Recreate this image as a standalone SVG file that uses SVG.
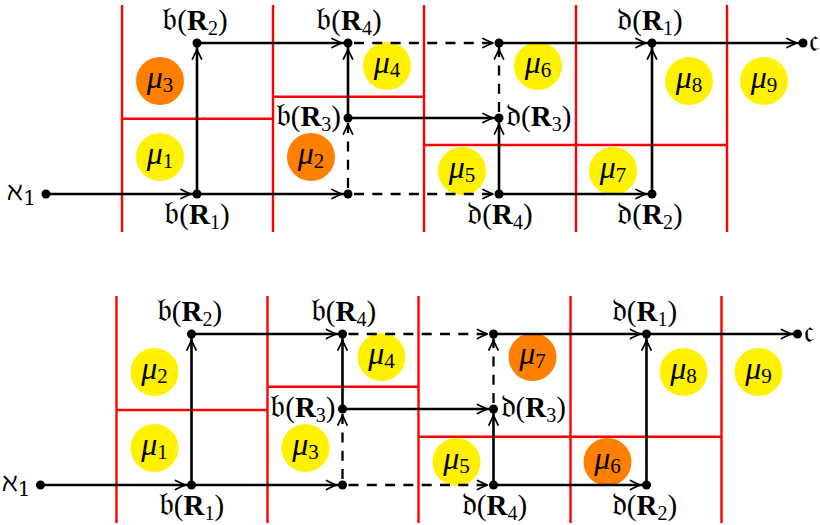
<svg xmlns="http://www.w3.org/2000/svg" width="820" height="525" viewBox="0 0 820 525">
<style>
.red{stroke:#ff0000;stroke-width:2.4;fill:none}
.ln{stroke:#000;stroke-width:2.6;fill:none;marker-end:url(#ah)}
.dash{stroke-width:2.3;stroke-dasharray:10 8.3;stroke-dashoffset:12.3}
.dot{fill:#000}
.y{fill:#fff100}
.o{fill:#ff7f00}
.lbl{font-family:"Liberation Serif","DejaVu Serif",serif;font-size:29px;fill:#000}
.fr{font-size:33px}
.b{font-weight:bold}
.sub{font-size:20px}
.al{font-family:"DejaVu Serif","Liberation Serif",serif;font-size:26px}
.mu{font-family:"Liberation Serif","DejaVu Serif",serif;font-size:32px;font-style:italic;text-anchor:middle}
.mus{font-size:21px;font-style:normal}
</style>
<defs>
<marker id="ah" markerUnits="userSpaceOnUse" markerWidth="20" markerHeight="12" viewBox="-12 -6 20 12" refX="6" refY="0" orient="auto" overflow="visible">
<path d="M-10,-4.6 Q-3.5,-1.3 0,0 Q-3.5,1.3 -10,4.6" fill="none" stroke="#000" stroke-width="1.7" stroke-linecap="round" stroke-linejoin="round"/>
</marker>
</defs>

<g id="top">
<g id="t-regions">
<path class="red" d="M122,5V232M273,5V232M424,5V232M576,5V232M727,5V232M122,118.7H273M273,96.7H424M424,145H727"/>
</g>
<g id="t-cells">
<g id="t-mu3"><circle class="o" cx="160" cy="81" r="24"/><text class="mu" x="160" y="88">μ<tspan class="mus" dy="4">3</tspan></text></g>
<g id="t-mu1"><circle class="y" cx="160" cy="157" r="24"/><text class="mu" x="160" y="164">μ<tspan class="mus" dy="4">1</tspan></text></g>
<g id="t-mu2"><circle class="o" cx="311" cy="157" r="24"/><text class="mu" x="311" y="164">μ<tspan class="mus" dy="4">2</tspan></text></g>
<g id="t-mu4"><circle class="y" cx="387" cy="66" r="24"/><text class="mu" x="387" y="73">μ<tspan class="mus" dy="4">4</tspan></text></g>
<g id="t-mu5"><circle class="y" cx="462" cy="171" r="24"/><text class="mu" x="462" y="178">μ<tspan class="mus" dy="4">5</tspan></text></g>
<g id="t-mu6"><circle class="y" cx="538" cy="66" r="24"/><text class="mu" x="538" y="73">μ<tspan class="mus" dy="4">6</tspan></text></g>
<g id="t-mu7"><circle class="y" cx="613" cy="171" r="24"/><text class="mu" x="613" y="178">μ<tspan class="mus" dy="4">7</tspan></text></g>
<g id="t-mu8"><circle class="y" cx="689" cy="81" r="24"/><text class="mu" x="689" y="88">μ<tspan class="mus" dy="4">8</tspan></text></g>
<g id="t-mu9"><circle class="y" cx="764" cy="81" r="24"/><text class="mu" x="764" y="88">μ<tspan class="mus" dy="4">9</tspan></text></g>
</g>
<g id="t-connectors">
<path class="ln" d="M46,194H197"/>
<path class="ln" d="M197,194V43"/>
<path class="ln" d="M197,43H348"/>
<path class="ln" d="M197,194H348"/>
<path class="ln dash" d="M348,194V118"/>
<path class="ln" d="M348,118V43"/>
<path class="ln dash" d="M348,43H499"/>
<path class="ln dash" d="M348,194H499"/>
<path class="ln" d="M348,118H499"/>
<path class="ln" d="M499,194V118"/>
<path class="ln dash" d="M499,118V43"/>
<path class="ln" d="M499,43H652"/>
<path class="ln" d="M499,194H652"/>
<path class="ln" d="M652,194V43"/>
<path class="ln" d="M652,43H803"/>
</g>
<g id="t-aleph"><circle class="dot" cx="46" cy="194" r="4.5"/><text class="lbl al" x="36" y="200" text-anchor="end">ℵ<tspan class="sub" dy="5">1</tspan></text></g>
<g id="t-bR1"><circle class="dot" cx="197" cy="194" r="4.5"/><text class="lbl" x="197" y="224" text-anchor="middle"><tspan class="fr">𝔟</tspan>(<tspan class="b">R</tspan><tspan class="sub" dy="5">1</tspan><tspan dy="-5">)</tspan></text></g>
<g id="t-bR2"><circle class="dot" cx="197" cy="43" r="4.5"/><text class="lbl" x="195" y="30" text-anchor="middle"><tspan class="fr">𝔟</tspan>(<tspan class="b">R</tspan><tspan class="sub" dy="5">2</tspan><tspan dy="-5">)</tspan></text></g>
<g id="t-bR4"><circle class="dot" cx="348" cy="43" r="4.5"/><text class="lbl" x="349" y="30" text-anchor="middle"><tspan class="fr">𝔟</tspan>(<tspan class="b">R</tspan><tspan class="sub" dy="5">4</tspan><tspan dy="-5">)</tspan></text></g>
<g id="t-bR3"><circle class="dot" cx="348" cy="118" r="4.5"/><text class="lbl" x="341" y="126" text-anchor="end"><tspan class="fr">𝔟</tspan>(<tspan class="b">R</tspan><tspan class="sub" dy="5">3</tspan><tspan dy="-5">)</tspan></text></g>
<g id="t-j1"><circle class="dot" cx="348" cy="194" r="4.5"/></g>
<g id="t-j2"><circle class="dot" cx="499" cy="43" r="4.5"/></g>
<g id="t-dR3"><circle class="dot" cx="499" cy="118" r="4.5"/><text class="lbl" x="506" y="126"><tspan class="fr">𝔡</tspan>(<tspan class="b">R</tspan><tspan class="sub" dy="5">3</tspan><tspan dy="-5">)</tspan></text></g>
<g id="t-dR4"><circle class="dot" cx="499" cy="194" r="4.5"/><text class="lbl" x="500" y="224" text-anchor="middle"><tspan class="fr">𝔡</tspan>(<tspan class="b">R</tspan><tspan class="sub" dy="5">4</tspan><tspan dy="-5">)</tspan></text></g>
<g id="t-dR1"><circle class="dot" cx="652" cy="43" r="4.5"/><text class="lbl" x="650" y="30" text-anchor="middle"><tspan class="fr">𝔡</tspan>(<tspan class="b">R</tspan><tspan class="sub" dy="5">1</tspan><tspan dy="-5">)</tspan></text></g>
<g id="t-dR2"><circle class="dot" cx="652" cy="194" r="4.5"/><text class="lbl" x="650" y="224" text-anchor="middle"><tspan class="fr">𝔡</tspan>(<tspan class="b">R</tspan><tspan class="sub" dy="5">2</tspan><tspan dy="-5">)</tspan></text></g>
<g id="t-c"><circle class="dot" cx="803" cy="43" r="4.5"/><text class="lbl fr" x="809" y="51">𝔠</text></g>
</g>

<g id="bottom" transform="translate(-5.5,291)">
<g id="b-regions">
<path class="red" d="M122,5V232M273,5V232M424,5V232M576,5V232M727,5V232M122,119H273M273,95.7H424M424,145.7H727"/>
</g>
<g id="b-cells">
<g id="b-mu2"><circle class="y" cx="160" cy="81" r="24"/><text class="mu" x="160" y="88">μ<tspan class="mus" dy="4">2</tspan></text></g>
<g id="b-mu1"><circle class="y" cx="160" cy="157" r="24"/><text class="mu" x="160" y="164">μ<tspan class="mus" dy="4">1</tspan></text></g>
<g id="b-mu3"><circle class="y" cx="311" cy="157" r="24"/><text class="mu" x="311" y="164">μ<tspan class="mus" dy="4">3</tspan></text></g>
<g id="b-mu4"><circle class="y" cx="387" cy="66" r="24"/><text class="mu" x="387" y="73">μ<tspan class="mus" dy="4">4</tspan></text></g>
<g id="b-mu5"><circle class="y" cx="462" cy="171" r="24"/><text class="mu" x="462" y="178">μ<tspan class="mus" dy="4">5</tspan></text></g>
<g id="b-mu7"><circle class="o" cx="538" cy="66" r="24"/><text class="mu" x="538" y="73">μ<tspan class="mus" dy="4">7</tspan></text></g>
<g id="b-mu6"><circle class="o" cx="613" cy="171" r="24"/><text class="mu" x="613" y="178">μ<tspan class="mus" dy="4">6</tspan></text></g>
<g id="b-mu8"><circle class="y" cx="689" cy="81" r="24"/><text class="mu" x="689" y="88">μ<tspan class="mus" dy="4">8</tspan></text></g>
<g id="b-mu9"><circle class="y" cx="764" cy="81" r="24"/><text class="mu" x="764" y="88">μ<tspan class="mus" dy="4">9</tspan></text></g>
</g>
<g id="b-connectors">
<path class="ln" d="M46,194H197"/>
<path class="ln" d="M197,194V43"/>
<path class="ln" d="M197,43H348"/>
<path class="ln" d="M197,194H348"/>
<path class="ln dash" d="M348,194V118"/>
<path class="ln" d="M348,118V43"/>
<path class="ln dash" d="M348,43H499"/>
<path class="ln dash" d="M348,194H499"/>
<path class="ln" d="M348,118H499"/>
<path class="ln" d="M499,194V118"/>
<path class="ln dash" d="M499,118V43"/>
<path class="ln" d="M499,43H652"/>
<path class="ln" d="M499,194H652"/>
<path class="ln" d="M652,194V43"/>
<path class="ln" d="M652,43H803"/>
</g>
<g id="b-aleph"><circle class="dot" cx="46" cy="194" r="4.5"/><text class="lbl al" x="36" y="200" text-anchor="end">ℵ<tspan class="sub" dy="5">1</tspan></text></g>
<g id="b-bR1"><circle class="dot" cx="197" cy="194" r="4.5"/><text class="lbl" x="197" y="224" text-anchor="middle"><tspan class="fr">𝔟</tspan>(<tspan class="b">R</tspan><tspan class="sub" dy="5">1</tspan><tspan dy="-5">)</tspan></text></g>
<g id="b-bR2"><circle class="dot" cx="197" cy="43" r="4.5"/><text class="lbl" x="195" y="30" text-anchor="middle"><tspan class="fr">𝔟</tspan>(<tspan class="b">R</tspan><tspan class="sub" dy="5">2</tspan><tspan dy="-5">)</tspan></text></g>
<g id="b-bR4"><circle class="dot" cx="348" cy="43" r="4.5"/><text class="lbl" x="349" y="30" text-anchor="middle"><tspan class="fr">𝔟</tspan>(<tspan class="b">R</tspan><tspan class="sub" dy="5">4</tspan><tspan dy="-5">)</tspan></text></g>
<g id="b-bR3"><circle class="dot" cx="348" cy="118" r="4.5"/><text class="lbl" x="341" y="126" text-anchor="end"><tspan class="fr">𝔟</tspan>(<tspan class="b">R</tspan><tspan class="sub" dy="5">3</tspan><tspan dy="-5">)</tspan></text></g>
<g id="b-j1"><circle class="dot" cx="348" cy="194" r="4.5"/></g>
<g id="b-j2"><circle class="dot" cx="499" cy="43" r="4.5"/></g>
<g id="b-dR3"><circle class="dot" cx="499" cy="118" r="4.5"/><text class="lbl" x="506" y="126"><tspan class="fr">𝔡</tspan>(<tspan class="b">R</tspan><tspan class="sub" dy="5">3</tspan><tspan dy="-5">)</tspan></text></g>
<g id="b-dR4"><circle class="dot" cx="499" cy="194" r="4.5"/><text class="lbl" x="500" y="224" text-anchor="middle"><tspan class="fr">𝔡</tspan>(<tspan class="b">R</tspan><tspan class="sub" dy="5">4</tspan><tspan dy="-5">)</tspan></text></g>
<g id="b-dR1"><circle class="dot" cx="652" cy="43" r="4.5"/><text class="lbl" x="650" y="30" text-anchor="middle"><tspan class="fr">𝔡</tspan>(<tspan class="b">R</tspan><tspan class="sub" dy="5">1</tspan><tspan dy="-5">)</tspan></text></g>
<g id="b-dR2"><circle class="dot" cx="652" cy="194" r="4.5"/><text class="lbl" x="650" y="224" text-anchor="middle"><tspan class="fr">𝔡</tspan>(<tspan class="b">R</tspan><tspan class="sub" dy="5">2</tspan><tspan dy="-5">)</tspan></text></g>
<g id="b-c"><circle class="dot" cx="803" cy="43" r="4.5"/><text class="lbl fr" x="809" y="51">𝔠</text></g>
</g>
</svg>
